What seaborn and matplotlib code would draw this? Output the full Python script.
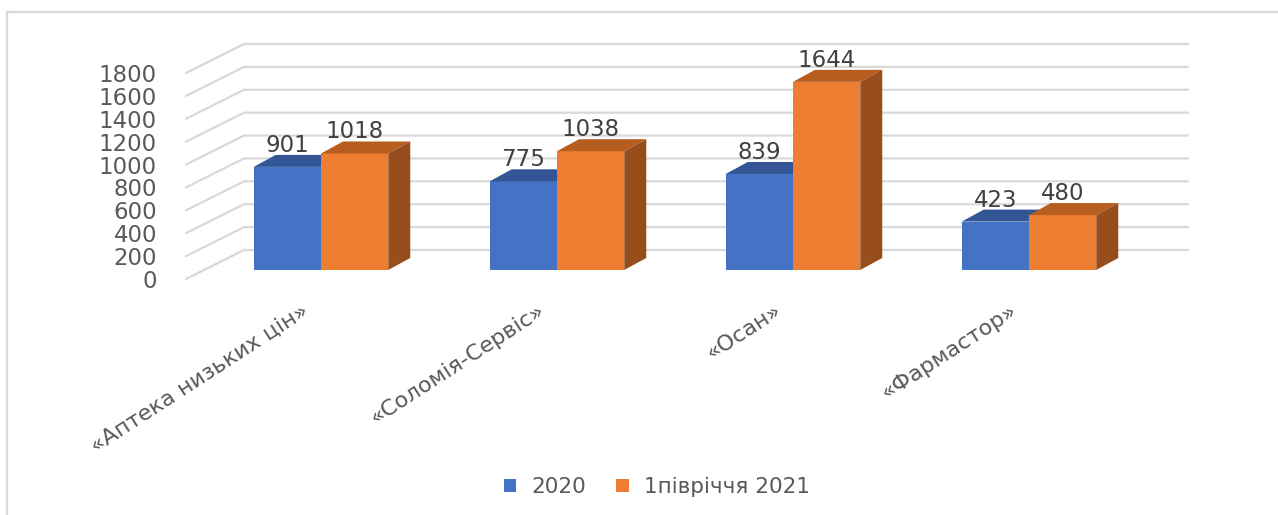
import matplotlib
matplotlib.use("Agg")
import matplotlib.pyplot as plt
import numpy as np
import pandas as pd
import seaborn as sns
from matplotlib.transforms import ScaledTranslation
from matplotlib.patches import Polygon, Rectangle, Patch

# ---------------- data ----------------
categories = ["«Аптека низьких цін»", "«Соломія-Сервіс»", "«Осан»", "«Фармастор»"]
series = ["2020", "1півріччя 2021"]
values_2020 = [901, 775, 839, 423]
values_2021 = [1018, 1038, 1644, 480]
y_ticks = [0, 200, 400, 600, 800, 1000, 1200, 1400, 1600, 1800]

# ---------------- style ----------------
colors_front = ["#4472C4", "#ED7D31"]
colors_top = ["#335595", "#B65D1F"]
colors_side = ["#2C4C86", "#974D1C"]
grid_color = "#D9D9D9"
text_color = "#595959"
label_color = "#404040"

sns.set_theme(style="white")
plt.rcParams["font.family"] = ["DejaVu Sans"]

W, H, DPI = 1278, 515, 100
fig = plt.figure(figsize=(W / DPI, H / DPI), dpi=DPI)
fig.patch.set_facecolor("white")


def px_axes(l, t, r, b):
    return [l / W, 1 - b / H, (r - l) / W, (b - t) / H]


ax = fig.add_axes(px_axes(203, 64, 1147, 270))
ax.patch.set_alpha(0)

df = pd.DataFrame({
    "category": categories * 2,
    "series": [series[0]] * len(categories) + [series[1]] * len(categories),
    "value": values_2020 + values_2021,
})

sns.barplot(data=df, x="category", y="value", hue="series", palette=colors_front,
            width=0.57, saturation=1, ax=ax, legend=False, linewidth=0,
            edgecolor="none")

ax.set_xlim(-0.5, 3.5)
ax.set_ylim(0, 1800)
ax.set_xlabel("")
ax.set_ylabel("")
for s in ax.spines.values():
    s.set_visible(False)


def shift(x, y, dx, dy):
    p = ax.transData.transform((x, y))
    return tuple(ax.transData.inverted().transform((p[0] + dx, p[1] + dy)))


FRONT = (-17, -9)
BACK = (41, 20)
DEPTH = (22, 12)

# back wall + left wall gridlines
x_lo, x_hi = ax.get_xlim()
for v in y_ticks:
    a = shift(x_lo, v, *FRONT)
    b = shift(x_lo, v, *BACK)
    c = shift(x_hi, v, *BACK)
    ax.plot([a[0], b[0], c[0]], [a[1], b[1], c[1]], color=grid_color, lw=1.6,
            clip_on=False, zorder=0.5, solid_joinstyle="miter")

# 3D faces + labels
for i, cont in enumerate(ax.containers):
    for bar in cont:
        x0, w, h = bar.get_x(), bar.get_width(), bar.get_height()
        bar.set_zorder(2 + i)
        top = [(x0, h), (x0 + w, h), shift(x0 + w, h, *DEPTH), shift(x0, h, *DEPTH)]
        side = [(x0 + w, 0), (x0 + w, h), shift(x0 + w, h, *DEPTH), shift(x0 + w, 0, *DEPTH)]
        ax.add_patch(Polygon(top, closed=True, fc=colors_top[i], ec="none",
                             zorder=2 + i + 0.05, clip_on=False))
        ax.add_patch(Polygon(side, closed=True, fc=colors_side[i], ec="none",
                             zorder=2 + i + 0.05, clip_on=False))
        ax.annotate(f"{int(round(h))}", (x0 + w / 2, h), xytext=(0, 15),
                    textcoords="offset pixels", ha="center", va="baseline",
                    fontsize=16.5, color=label_color, zorder=10)

# y ticks
ax.set_yticks(y_ticks)
ax.set_yticklabels([str(v) for v in y_ticks])
ax.tick_params(axis="y", length=0, pad=0, labelsize=16.5, labelcolor=text_color)

# x ticks
ax.set_xticks(range(len(categories)))
ax.set_xticklabels(categories, rotation=33, ha="right", va="center",
                   rotation_mode="anchor")
ax.tick_params(axis="x", length=0, pad=0, labelsize=16, labelcolor=text_color)

for lab in ax.get_yticklabels():
    lab.set_transform(lab.get_transform() + ScaledTranslation(-46 / DPI, -9 / DPI, fig.dpi_scale_trans))
for lab in ax.get_xticklabels():
    lab.set_transform(lab.get_transform() + ScaledTranslation(-14 / DPI, -39 / DPI, fig.dpi_scale_trans))

# outer frame
fig.add_artist(Rectangle((7 / W, -0.1), 2, 1 - 12 / H + 0.1, transform=fig.transFigure,
                         fill=False, ec=grid_color, lw=1.6))

# legend
handles = [Patch(fc=colors_front[0], ec="none"), Patch(fc=colors_front[1], ec="none")]
fig.legend(handles, series, loc="center", bbox_to_anchor=(657 / W, 1 - 487 / H), ncol=2,
           frameon=False, fontsize=15.5, handlelength=0.6, handleheight=0.6,
           handletextpad=0.7, columnspacing=1.4, labelcolor=text_color)

fig.savefig("out.png", dpi=DPI)
